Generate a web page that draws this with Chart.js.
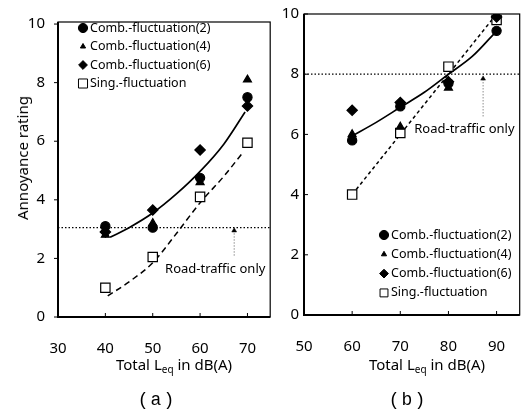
<!DOCTYPE html>
<html>
<head>
<meta charset="utf-8">
<script src="https://cdn.jsdelivr.net/npm/chart.js@4/dist/chart.umd.min.js"></script>
<style>
  body { margin:0; width:529px; height:410px; background:#fff; position:relative; overflow:hidden; font-family:"Noto Sans", sans-serif; color:#000; }
  canvas { position:absolute; top:0; }
  .ytitle { position:absolute; left:22px; top:158px; transform:translate(-50%,-50%) rotate(-90deg); font-size:15px; white-space:nowrap; }
  .xtitle { position:absolute; top:365px; transform:translate(-50%,-50%); font-size:15px; white-space:nowrap; }
  .xtitle sub { font-size:10px; vertical-align:-3px; }
  .panel { position:absolute; top:400px; transform:translate(-50%,-50%); font-family:"Liberation Mono", monospace; font-size:18px; letter-spacing:2px; }
</style>
</head>
<body>
<canvas id="chartA" width="280" height="410" style="left:0"></canvas>
<canvas id="chartB" width="267" height="410" style="left:262px"></canvas>
<div class="ytitle">Annoyance rating</div>
<div class="xtitle" style="left:174px">Total L<sub>eq</sub> in dB(A)</div>
<div class="xtitle" style="left:427px">Total L<sub>eq</sub> in dB(A)</div>
<div class="panel" style="left:157px">(a)</div>
<div class="panel" style="left:408px">(b)</div>
<script>
// tick labels
const xTicksA = [30, 40, 50, 60, 70];
const xTicksB = [50, 60, 70, 80, 90];
const yTicks = [0, 2, 4, 6, 8, 10];

const seriesNames = ['Comb.-fluctuation(2)', 'Comb.-fluctuation(4)', 'Comb.-fluctuation(6)', 'Sing.-fluctuation'];

// (a) measured points
const levelsA = [40, 50, 60, 70];
const comb2A = [3.1, 3.05, 4.75, 7.5];
const comb4A = [2.8, 3.2, 4.6, 8.1];
const comb6A = [2.9, 3.65, 5.7, 7.2];
const singA  = [1.0, 2.05, 4.1, 5.95];
// (a) fitted curves
const fitCombAx = [41, 45, 50, 55, 60, 65, 69.5];
const fitCombAy = [2.72, 3.05, 3.55, 4.2, 4.97, 5.9, 7.0];
const fitSingAx = [40.5, 45, 50, 55, 60, 65, 69.2];
const fitSingAy = [0.72, 1.2, 1.85, 2.85, 3.9, 4.8, 5.65];
const roadA = 3.05;
const arrowA = { x: 67.2, from: 2.1, to: 2.95 };
const noteA = { x: 52.6, y: 1.62 };

// (b) measured points
const levelsB = [60, 70, 80, 90];
const comb2B = [5.8, 6.93, 7.7, 9.44];
const comb4B = [6.0, 6.25, 7.55, 10.0];
const comb6B = [6.8, 7.06, 7.75, 9.9];
const singB  = [4.0, 6.05, 8.25, 9.8];
// (b) fitted curves
const fitCombBx = [60, 65, 70, 75, 80, 85, 89.5];
const fitCombBy = [5.95, 6.4, 6.9, 7.4, 8.0, 8.6, 9.35];
const fitSingBx = [60, 89.5];
const fitSingBy = [4.0, 9.9];
const roadB = 8.0;
const arrowB = { x: 87.2, from: 6.6, to: 7.85 };
const noteB = { x: 72.9, y: 6.17 };

const MARKERS = [
  { pointStyle: 'circle',   radius: 4.6, fill: '#000' },
  { pointStyle: 'triangle', radius: 4.6, fill: '#000' },
  { pointStyle: 'rectRot',  radius: 5.2, fill: '#000' },
  { pointStyle: 'rect',     radius: 6.6, fill: '#fff' }
];

const pts = (xs, ys) => xs.map((x, i) => ({ x, y: ys[i] }));

function markerPath(ctx, style, x, y, r) {
  ctx.beginPath();
  if (style === 'circle') ctx.arc(x, y, r, 0, Math.PI * 2);
  else if (style === 'triangle') {
    ctx.moveTo(x, y - r);
    ctx.lineTo(x + r * 0.866, y + r / 2);
    ctx.lineTo(x - r * 0.866, y + r / 2);
    ctx.closePath();
  } else if (style === 'rectRot') {
    ctx.moveTo(x, y - r); ctx.lineTo(x + r, y); ctx.lineTo(x, y + r); ctx.lineTo(x - r, y); ctx.closePath();
  } else {
    const s = r * Math.SQRT1_2;
    ctx.rect(x - s, y - s, 2 * s, 2 * s);
  }
}

const boxPlugin = {
  id: 'box',
  beforeDatasetsDraw(chart) {
    const { ctx, chartArea: a } = chart;
    ctx.save();
    ctx.strokeStyle = '#000';
    ctx.lineWidth = 1.2;
    ctx.strokeRect(a.left, a.top, a.right - a.left, a.bottom - a.top);
    ctx.lineWidth = 2;
    ctx.beginPath();
    ctx.moveTo(a.left, a.top); ctx.lineTo(a.left, a.bottom); ctx.lineTo(a.right, a.bottom);
    ctx.stroke();
    // tick marks
    const { x, y } = chart.scales;
    const dir = chart.options.plugins.box.yDir;
    ctx.lineWidth = 1;
    x.ticks.forEach(t => {
      const px = x.getPixelForValue(t.value);
      ctx.beginPath(); ctx.moveTo(px, a.bottom); ctx.lineTo(px, a.bottom - 4); ctx.stroke();
    });
    y.ticks.forEach(t => {
      const py = y.getPixelForValue(t.value);
      ctx.beginPath(); ctx.moveTo(a.left, py); ctx.lineTo(a.left + dir * 4, py); ctx.stroke();
    });
    ctx.restore();
  }
};

const notePlugin = {
  id: 'note',
  afterDatasetsDraw(chart) {
    const o = chart.options.plugins.note;
    const { ctx, scales: { x, y } } = chart;
    ctx.save();
    ctx.font = '13px "Noto Sans"';
    ctx.fillStyle = '#000';
    ctx.textBaseline = 'middle';
    ctx.fillText('Road-traffic only', x.getPixelForValue(o.x), y.getPixelForValue(o.y));
    // legend
    const lg = o.legend;
    ctx.font = '12.5px "Noto Sans"';
    seriesNames.forEach((name, i) => {
      const cy = lg.top + i * lg.gap;
      const m = MARKERS[i];
      markerPath(ctx, m.pointStyle, lg.left, cy, lg.sizes[i]);
      ctx.fillStyle = m.fill;
      ctx.fill();
      ctx.lineWidth = 1;
      ctx.strokeStyle = '#000';
      ctx.stroke();
      ctx.fillStyle = '#000';
      ctx.fillText(name, lg.left + 7, cy);
    });
    ctx.restore();
  }
};

function buildChart(id, cfg) {
  const series = cfg.series.map((ys, i) => ({
    data: pts(cfg.levels, ys),
    pointStyle: MARKERS[i].pointStyle,
    pointRadius: MARKERS[i].radius,
    pointBackgroundColor: MARKERS[i].fill,
    pointBorderColor: '#000',
    pointBorderWidth: 1.2,
    showLine: false
  }));
  const lines = [
    { data: pts(cfg.fitComb[0], cfg.fitComb[1]), borderWidth: 1.7, borderDash: [] },
    { data: pts(cfg.fitSing[0], cfg.fitSing[1]), borderWidth: 1.5, borderDash: cfg.dash },
    { data: [{ x: cfg.xMin, y: cfg.road }, { x: cfg.xMax, y: cfg.road }], borderWidth: 1.2, borderDash: [1.5, 2] },
  ].map(d => ({ ...d, showLine: true, pointRadius: 0, borderColor: '#000', tension: 0.4, cubicInterpolationMode: 'monotone' }));
  const arrow = {
    data: [{ x: cfg.arrow.x, y: cfg.arrow.from }, { x: cfg.arrow.x, y: cfg.arrow.to }],
    showLine: true, borderColor: '#555', borderWidth: 1, borderDash: [1, 2],
    pointStyle: 'triangle', pointRadius: [0, 2.8], pointBackgroundColor: '#000', pointBorderColor: '#000', pointBorderWidth: 0.5
  };

  return new Chart(document.getElementById(id), {
    type: 'scatter',
    data: { datasets: [...series, ...lines, arrow] },
    plugins: [boxPlugin, notePlugin],
    options: {
      responsive: false,
      animation: false,
      layout: { padding: cfg.padding },
      plugins: {
        legend: { display: false },
        tooltip: { enabled: false },
        box: { yDir: cfg.yDir },
        note: { x: cfg.note.x, y: cfg.note.y, legend: cfg.legend }
      },
      elements: { point: { hoverRadius: 0 } },
      scales: {
        x: {
          type: 'linear', min: cfg.xMin, max: cfg.xMax,
          afterBuildTicks: s => { s.ticks = cfg.xTicks.map(v => ({ value: v })); },
          afterFit: s => { s.height = cfg.xHeight; },
          grid: { display: false, drawTicks: false },
          border: { display: false },
          ticks: { padding: cfg.xPad, color: '#000', font: { family: 'Noto Sans', size: 15 } }
        },
        y: {
          type: 'linear', min: 0, max: cfg.yMax,
          afterBuildTicks: s => { s.ticks = yTicks.map(v => ({ value: v })); },
          afterFit: s => { s.width = cfg.yWidth; },
          grid: { display: false, drawTicks: false },
          border: { display: false },
          ticks: { padding: cfg.yPad, color: '#000', font: { family: 'Noto Sans', size: 15 } }
        }
      }
    }
  });
}

buildChart('chartA', {
  levels: levelsA, series: [comb2A, comb4A, comb6A, singA],
  fitComb: [fitCombAx, fitCombAy], fitSing: [fitSingAx, fitSingAy], dash: [6, 4],
  road: roadA, arrow: arrowA, note: noteA,
  xMin: 30, xMax: 74.8, yMax: 10.07, xTicks: xTicksA,
  padding: { top: 13, right: 9, left: 0, bottom: 0 },
  xHeight: 93, yWidth: 58, xPad: 23, yPad: 13, yDir: -1,
  legend: { left: 83, top: 28, gap: 18.5, sizes: [4.6, 3, 4.4, 6.4] }
});

buildChart('chartB', {
  levels: levelsB, series: [comb2B, comb4B, comb6B, singB],
  fitComb: [fitCombBx, fitCombBy], fitSing: [fitSingBx, fitSingBy], dash: [3.5, 3],
  road: roadB, arrow: arrowB, note: noteB,
  xMin: 50, xMax: 94.8, yMax: 10, xTicks: xTicksB,
  padding: { top: 12, right: 2, left: 0, bottom: 0 },
  xHeight: 95, yWidth: 42, xPad: 23, yPad: 5, yDir: 1,
  legend: { left: 122, top: 235, gap: 19.3, sizes: [4.6, 3, 4.4, 5.6] }
});
</script>
</body>
</html>
